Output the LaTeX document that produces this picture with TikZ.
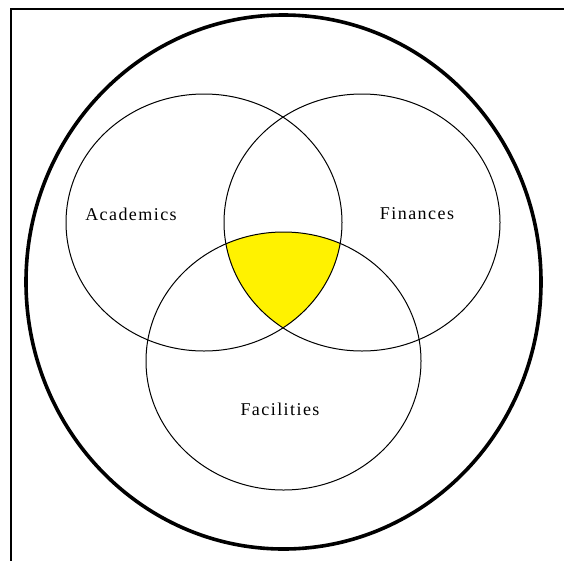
\documentclass[tikz,border=0pt]{standalone}
\usepackage{fontspec}
\setmainfont{Liberation Serif}[LetterSpace=8]
\begin{document}
\begin{tikzpicture}[x=1pt,y=-1pt,
  setc/.style={draw=black,line width=1pt},
  outer/.style={draw=black,line width=3.6pt},
  lbl/.style={font=\fontsize{18}{21}\selectfont,inner sep=0pt}]
\useasboundingbox (0,0) rectangle (564,560);
\fill[white] (0,0) rectangle (564,560);
% frame (left and top edges only)
\coordinate (fb) at (11,561);
\coordinate (fc) at (11,9);
\coordinate (fr) at (565,9);
\draw[line width=2.4pt] (fb) -- (fc) -- (fr);
% outer ellipse
\draw[outer] (283.5,282) ellipse [x radius=257.5, y radius=267];
% yellow intersection
\begin{scope}
  \clip (204,222.5) ellipse [x radius=138, y radius=128.5];
  \clip (362,222.5) ellipse [x radius=138, y radius=128.5];
  \fill[yellow] (283.5,361) ellipse [x radius=137.5, y radius=129];
\end{scope}
% three sets
\draw[setc] (204,222.5) ellipse [x radius=138, y radius=128.5];
\draw[setc] (362,222.5) ellipse [x radius=138, y radius=128.5];
\draw[setc] (283.5,361) ellipse [x radius=137.5, y radius=129];
% labels
\node[lbl] (acad) at (131,214) {Academics};
\node[lbl] (fin) at (417,214) {Finances};
\node[lbl] (fac) at (280,409) {Facilities};
\end{tikzpicture}
\end{document}
